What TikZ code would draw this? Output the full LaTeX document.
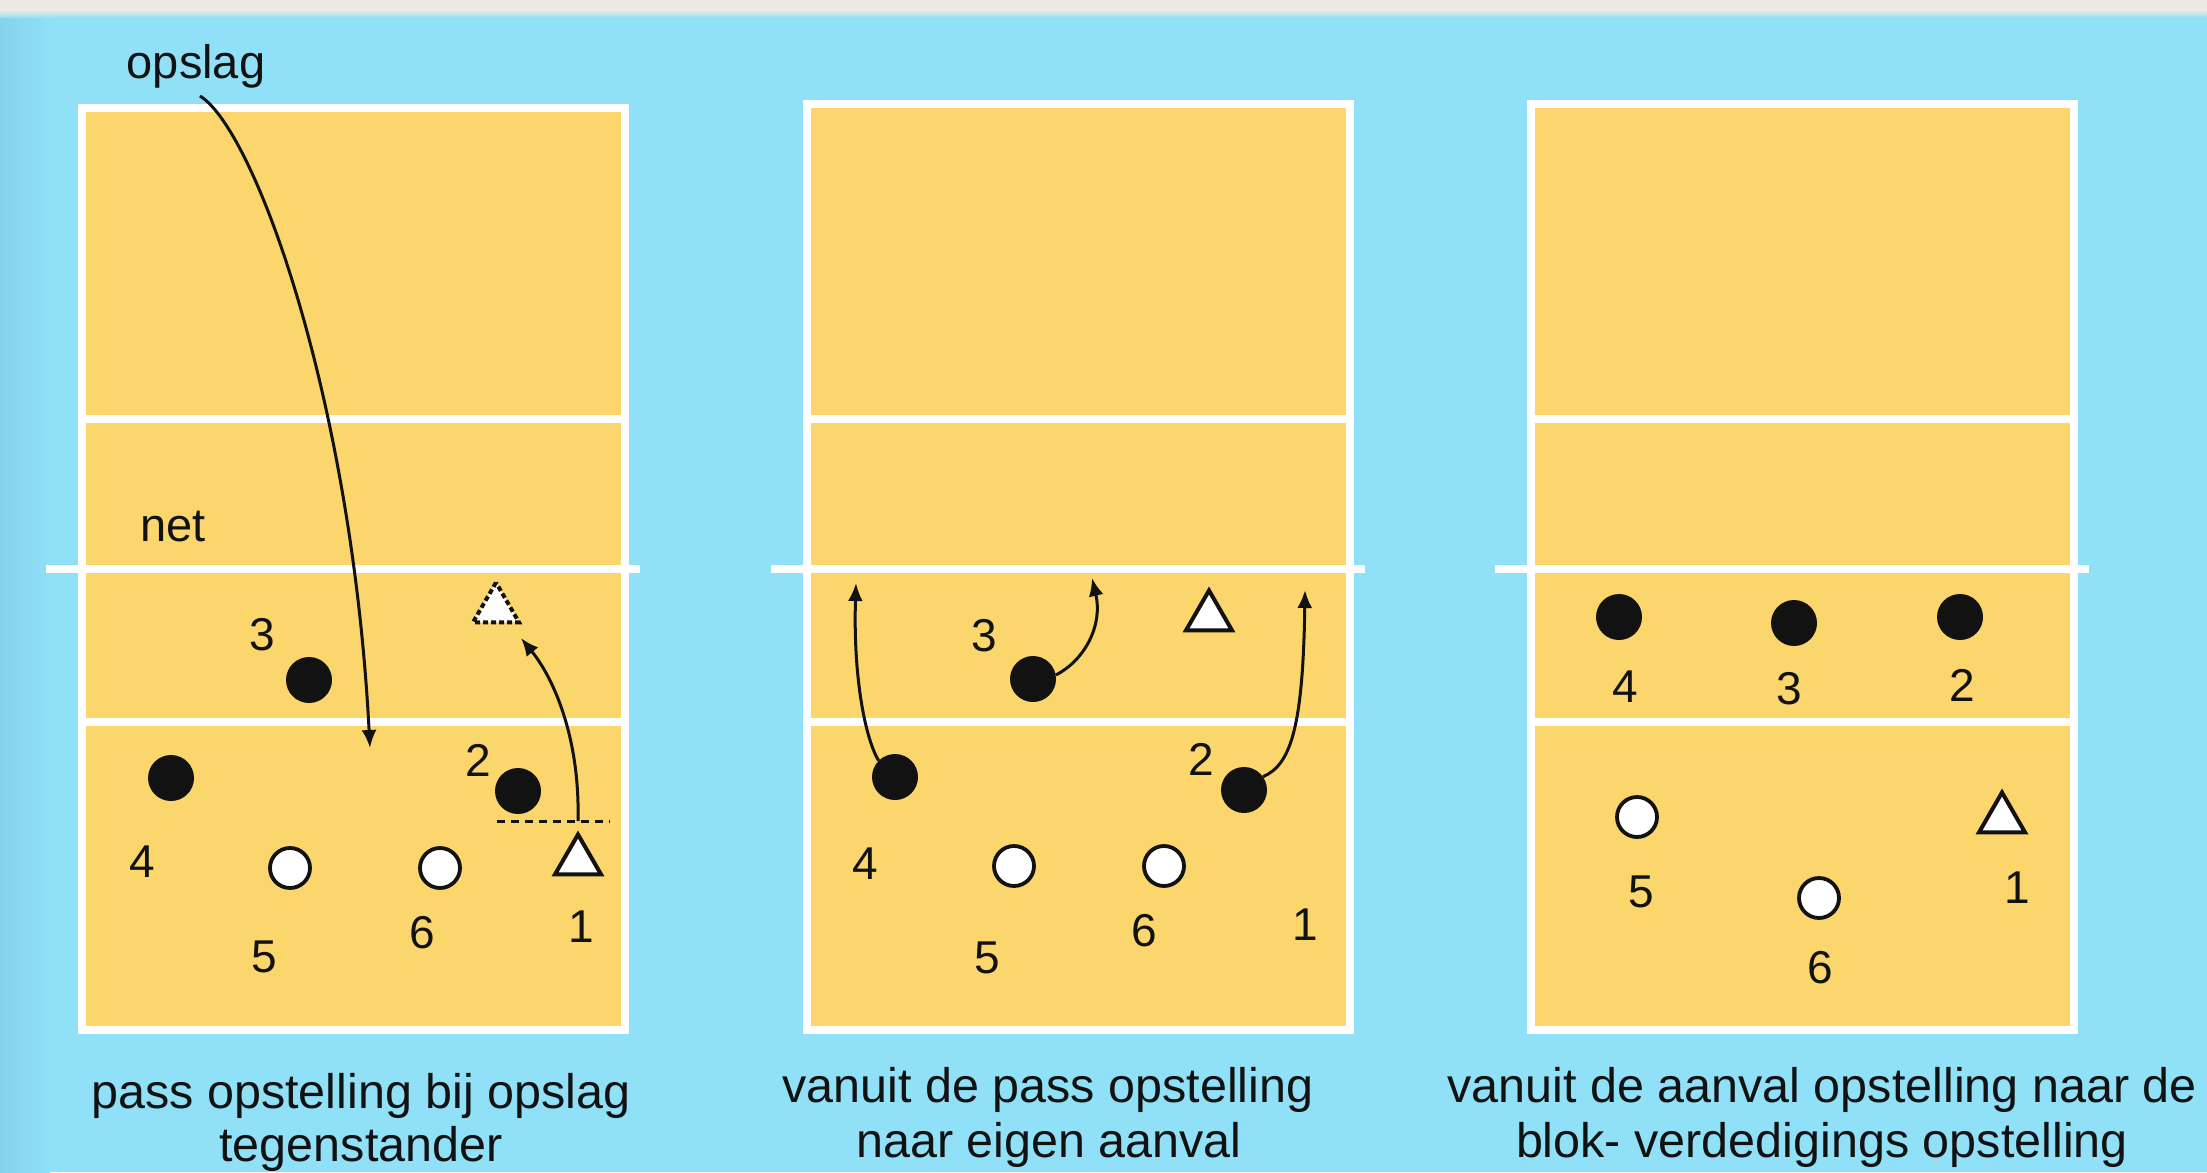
\documentclass[tikz,border=0pt]{standalone}
\usepackage{fontspec}
\setmainfont{Liberation Sans}
\usetikzlibrary{arrows.meta,shapes.geometric}
\definecolor{bg}{RGB}{144,224,248}
\definecolor{bgdark}{RGB}{134,210,236}
\definecolor{courtc}{RGB}{250,214,108}
\definecolor{topband}{RGB}{236,233,226}
\definecolor{ink}{RGB}{18,18,18}
\begin{document}
\begin{tikzpicture}[x=1pt,y=-1pt,
  courtline/.style={white,line width=8pt},
  blackp/.style={circle,fill=ink,minimum size=46pt,inner sep=0pt},
  whitep/.style={circle,draw=ink,fill=white,line width=3.8pt,minimum size=40pt,inner sep=0pt},
  setter/.style={regular polygon,regular polygon sides=3,draw=ink,fill=white,line width=4pt,minimum size=53pt,inner sep=0pt},
  ghost/.style={setter,dash pattern=on 5pt off 3pt},
  num/.style={font=\fontsize{46}{52}\selectfont,text=ink,inner sep=0pt},
  lbl/.style={font=\fontsize{47}{54}\selectfont,text=ink,inner sep=0pt,anchor=base},
  captext/.style={font=\fontsize{48.5}{56}\selectfont,text=ink,inner sep=0pt,anchor=base},
  move/.style={draw=ink,line width=3pt,-{Latex[length=18pt,width=15pt]}},
  hint/.style={draw=ink,line width=3pt,dash pattern=on 8pt off 6pt}
]
\useasboundingbox (0,0) rectangle (2207,1172);
% background
\fill[bg] (0,0) rectangle (2207,1172);
\shade[left color=bgdark,right color=bg] (0,12) rectangle (50,1172);
\fill[topband] (0,0) rectangle (2207,10);
\shade[top color=topband,bottom color=bg] (0,10) rectangle (2207,18);
% courts
\foreach \x/\t in {82/108,807/104,1531/104}{
  \fill[courtc] (\x,\t) rectangle (\x+543,1030);
  \draw[courtline] (\x,\t) rectangle (\x+543,1030);
  \draw[courtline] (\x,419) -- (\x+543,419);
  \draw[courtline] (\x-36,569) -- (\x+558,569);
  \draw[courtline] (\x,722) -- (\x+543,722);
}
% ---------- court 1 ----------
\node[lbl] (opslag) at (196,78) {opslag};
\node[lbl] (net) at (173,541) {net};
\node[blackp] (a3) at (309,680) {};
\node[blackp] (a4) at (171,778) {};
\node[blackp] (a2) at (518,791) {};
\node[whitep] (a5) at (290,868) {};
\node[whitep] (a6) at (440,868) {};
\node[setter] (a1) at (578,861) {};
\node[ghost] (a1t) at (496,609) {};
\node[num] (an3) at (262,635) {3};
\node[num] (an4) at (142,862) {4};
\node[num] (an5) at (264,957) {5};
\node[num] (an6) at (422,933) {6};
\node[num] (an2) at (478,760) {2};
\node[num] (an1) at (581,927) {1};
\coordinate (serveS) at (200,96);
\coordinate (serveE) at (370,748);
\draw[move] (serveS) .. controls (255,130) and (352,400) .. (serveE);
\coordinate (dashL) at (497,821);
\coordinate (dashR) at (610,821);
\draw[hint] (dashL) -- (dashR);
\coordinate (runS) at (578,821);
\coordinate (runE) at (521,638);
\draw[move] (runS) .. controls (580,740) and (555,680) .. (runE);
% ---------- court 2 ----------
\node[blackp] (b3) at (1033,679) {};
\node[blackp] (b4) at (895,777) {};
\node[blackp] (b2) at (1244,790) {};
\node[whitep] (b5) at (1014,866) {};
\node[whitep] (b6) at (1164,866) {};
\node[setter] (b1) at (1209,617) {};
\node[num] (bn3) at (984,636) {3};
\node[num] (bn4) at (865,864) {4};
\node[num] (bn5) at (987,958) {5};
\node[num] (bn6) at (1144,931) {6};
\node[num] (bn2) at (1201,759) {2};
\node[num] (bn1) at (1305,925) {1};
\coordinate (b4E) at (856,583);
\coordinate (b3E) at (1092,578);
\coordinate (b2E) at (1305,590);
\draw[move] (b4.135) .. controls (866,740) and (853,680) .. (b4E);
\draw[move] (b3.10) .. controls (1085,660) and (1103,625) .. (b3E);
\draw[move] (b2.35) .. controls (1290,765) and (1303,730) .. (b2E);
% ---------- court 3 ----------
\node[blackp] (c4) at (1619,617) {};
\node[blackp] (c3) at (1794,623) {};
\node[blackp] (c2) at (1960,617) {};
\node[whitep] (c5) at (1637,817) {};
\node[whitep] (c6) at (1819,898) {};
\node[setter] (c1) at (2002,819) {};
\node[num] (cn4) at (1625,687) {4};
\node[num] (cn3) at (1789,689) {3};
\node[num] (cn2) at (1962,685) {2};
\node[num] (cn5) at (1641,892) {5};
\node[num] (cn1) at (2017,888) {1};
\node[num] (cn6) at (1820,968) {6};
% ---------- captions ----------
\node[captext] (cap1a) at (361,1108) {pass opstelling bij opslag};
\node[captext] (cap1b) at (361,1161) {tegenstander};
\node[captext] (cap2a) at (1048,1102) {vanuit de pass opstelling};
\node[captext] (cap2b) at (1049,1157) {naar eigen aanval};
\node[captext] (cap3a) at (1822,1102) {vanuit de aanval opstelling naar de};
\node[captext] (cap3b) at (1822,1157) {blok- verdedigings opstelling};
\end{tikzpicture}
\end{document}
